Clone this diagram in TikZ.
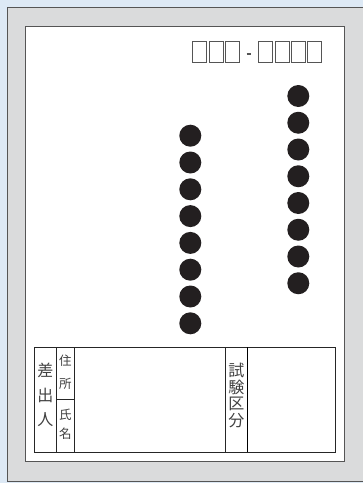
\documentclass[tikz,border=0pt]{standalone}
\usepackage{fontspec}
\newfontfamily\jpfont{Noto Sans CJK JP}
\definecolor{bgblue}{HTML}{DDE9F5}
\definecolor{panelgray}{HTML}{DADBDC}
\definecolor{edgegray}{HTML}{555555}
\definecolor{dotblack}{HTML}{231F20}
\definecolor{txtgray}{HTML}{404040}
\tikzset{
  zipbox/.style={draw=edgegray, line width=0.8pt},
  dotmark/.style={circle, fill=dotblack, minimum size=22pt, inner sep=0pt},
  tline/.style={draw=black!85, line width=0.9pt},
  bigch/.style={inner sep=0pt, font=\jpfont\fontsize{16}{16}\selectfont, text=txtgray},
  smallch/.style={inner sep=0pt, font=\jpfont\fontsize{12.5}{12.5}\selectfont, text=txtgray},
}
\begin{document}
\begin{tikzpicture}[x=1pt,y=-1pt]
\useasboundingbox (0,0) rectangle (363,483);
\fill[bgblue] (0,0) rectangle (363,483);
% gray panel
\fill[panelgray] (7,7) rectangle (366,481);
\draw[edgegray, line width=0.9pt] (366,7) -- (7,7) -- (7,481) -- (366,481);
% white card
\draw[fill=white, draw=edgegray, line width=0.8pt] (25.5,26.5) rectangle (344,461.5);
% zip boxes
\foreach \x in {192.5,209,225.5,258.7,275,291.3,307.6}{
  \draw[zipbox] (\x,41.7) rectangle ++(14,21);
}
\draw[edgegray, line width=1.1pt] (246.5,54) -- (251,54);
% dots
\foreach \i in {0,...,7}{
  \node[dotmark] (l\i) at (190.3,{135.7+26.8*\i}) {};
  \node[dotmark] (r\i) at (298.3,{96+26.75*\i}) {};
}
% table
\draw[tline] (34.3,347.3) rectangle (335.3,452);
\draw[tline] (56.3,347.3) -- (56.3,452);
\draw[tline] (74.3,347.3) -- (74.3,452);
\draw[tline] (56.3,399.3) -- (74.3,399.3);
\draw[tline] (225.3,347.3) -- (225.3,452);
\draw[draw=black, line width=1.2pt] (247.3,347.3) -- (247.3,452);
% texts
\node[bigch] (sa) at (45.5,370) {差};
\node[bigch] (de) at (45.5,395) {出};
\node[bigch] (hi) at (45.5,419.5) {人};
\node[smallch] (ju) at (65.5,360.5) {住};
\node[smallch] (sho) at (65.5,384) {所};
\node[smallch] (shi) at (65.5,415) {氏};
\node[smallch] (mei) at (65.5,433.5) {名};
\node[bigch] (t1) at (236.3,370.5) {試};
\node[bigch] (t2) at (236.3,387.5) {験};
\node[bigch] (t3) at (236.3,404) {区};
\node[bigch] (t4) at (236.3,420.5) {分};
\end{tikzpicture}
\end{document}
